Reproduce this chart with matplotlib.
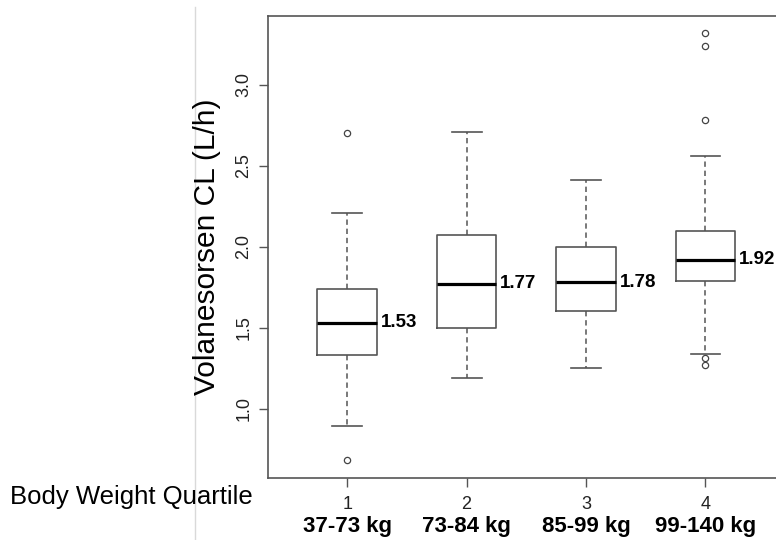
import matplotlib
matplotlib.use("Agg")
import matplotlib.pyplot as plt
from matplotlib.lines import Line2D

plt.rcParams['font.family'] = ['Liberation Sans', 'DejaVu Sans']

# Volanesorsen clearance by body weight quartile (box summary stats)
quartiles = [1, 2, 3, 4]
weight_ranges = ['37-73 kg', '73-84 kg', '85-99 kg', '99-140 kg']
medians = [1.53, 1.77, 1.78, 1.92]
q1 = [1.33, 1.50, 1.60, 1.79]
q3 = [1.74, 2.07, 2.00, 2.10]
whisker_lo = [0.89, 1.19, 1.25, 1.34]
whisker_hi = [2.21, 2.71, 2.41, 2.56]
outliers = [[2.70, 0.68], [], [], [3.32, 3.24, 2.78, 1.31, 1.27]]

stats = []
for i in range(len(quartiles)):
    stats.append(dict(med=medians[i], q1=q1[i], q3=q3[i],
                      whislo=whisker_lo[i], whishi=whisker_hi[i],
                      fliers=outliers[i]))

fig = plt.figure(figsize=(7.76, 5.4), dpi=100)
ax = fig.add_axes([268.3 / 776, 62.5 / 540, 516 / 776, 461.5 / 540])

edge = '#555555'
ax.bxp(stats, positions=quartiles, widths=0.5, showfliers=True,
       boxprops=dict(color=edge, linewidth=1.2),
       whiskerprops=dict(color=edge, linewidth=1.1, linestyle=(0, (3.5, 2.5))),
       capprops=dict(color=edge, linewidth=1.2),
       medianprops=dict(color='black', linewidth=2.3, solid_capstyle='butt'),
       flierprops=dict(marker='o', markersize=4.5, markerfacecolor='none',
                       markeredgecolor='#444444', markeredgewidth=0.9),
       capwidths=0.25)

# median values next to each box
for x, m in zip(quartiles, medians):
    ax.text(x + 0.28, m, f'{m:.2f}', fontsize=13.5, fontweight='bold',
            ha='left', va='center')

# R-style axis limits: 4% padding around the data range
all_vals = whisker_lo + whisker_hi + [v for f in outliers for v in f]
lo, hi = min(all_vals), max(all_vals)
pad = 0.04 * (hi - lo)
ax.set_ylim(lo - pad, hi + pad)
ax.set_xlim(0.34, 4.66)

ax.set_yticks([1.0, 1.5, 2.0, 2.5, 3.0])
ax.set_yticklabels(['1.0', '1.5', '2.0', '2.5', '3.0'])
for lab in ax.get_yticklabels():
    lab.set_rotation(90)
    lab.set_va('center')
ax.set_xticks(quartiles)
ax.set_xticklabels([str(q) for q in quartiles])
ax.tick_params(axis='both', length=6.5, width=1, color=edge,
               labelsize=13, labelcolor='#222222')
ax.tick_params(axis='x', pad=7)
ax.tick_params(axis='y', pad=5)
for s in ax.spines.values():
    s.set_color(edge)
    s.set_linewidth(1.2)

for x, r in zip(quartiles, weight_ranges):
    ax.text(x, -0.107, r, transform=ax.get_xaxis_transform(),
            fontsize=16, fontweight='bold', ha='center', va='center')

fig.text(207 / 776, (540 - 247) / 540, 'Volanesorsen CL (L/h)', rotation=90,
         fontsize=21.5, ha='center', va='center')
fig.text(10 / 776, (540 - 497) / 540, 'Body Weight Quartile',
         fontsize=18.5, ha='left', va='center')

# thin divider on the left
fig.add_artist(Line2D([195 / 776, 195 / 776], [0, 1 - 7 / 540],
                      transform=fig.transFigure, color='#d9d9d9', linewidth=1))

fig.savefig('out.png', dpi=100)
